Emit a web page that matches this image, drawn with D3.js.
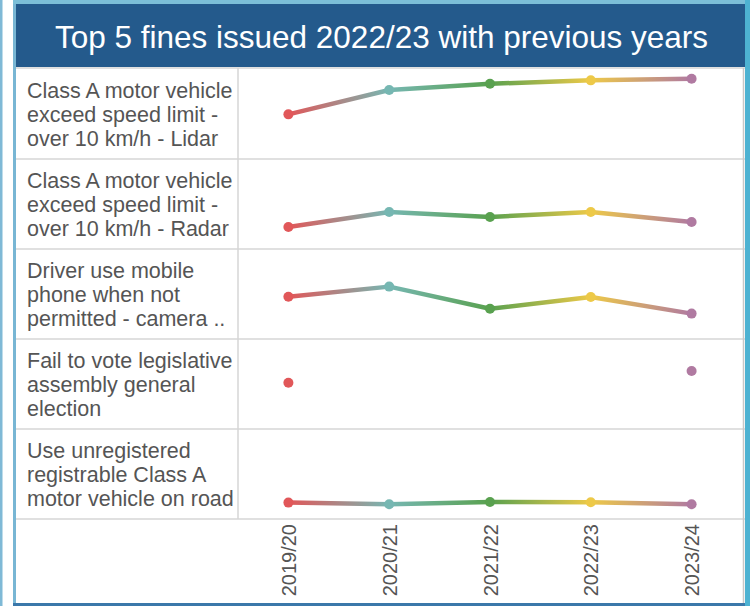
<!DOCTYPE html>
<html>
<head>
<meta charset="utf-8">
<script src="https://cdn.jsdelivr.net/npm/d3@7"></script>
<style>
  html, body { margin: 0; padding: 0; background: #ffffff; }
  svg { display: block; font-family: "Liberation Sans", Arial, sans-serif; }
</style>
</head>
<body>
<svg id="chart" width="756" height="606"></svg>
<script>
// ---- Data ----
const title = "Top 5 fines issued 2022/23 with previous years";
const years = ["2019/20", "2020/21", "2021/22", "2022/23", "2023/24"];
const yearColors = ["#e15759", "#76b7b2", "#59a14f", "#edc948", "#b07aa1"];
const categories = [
  "Class A motor vehicle exceed speed limit - over 10 km/h - Lidar",
  "Class A motor vehicle exceed speed limit - over 10 km/h - Radar",
  "Driver use mobile phone when not permitted - camera ..",
  "Fail to vote legislative assembly general election",
  "Use unregistered registrable Class A motor vehicle on road"
];
const categoryLines = [
  ["Class A motor vehicle", "exceed speed limit -", "over 10 km/h - Lidar"],
  ["Class A motor vehicle", "exceed speed limit -", "over 10 km/h - Radar"],
  ["Driver use mobile", "phone when not", "permitted - camera .."],
  ["Fail to vote legislative", "assembly general", "election"],
  ["Use unregistered", "registrable Class A", "motor vehicle on road"]
];
// fines issued per year
const lidarValues        = [24800, 38300, 41800, 43700, 44600];
const radarValues        = [12200, 20600, 17800, 20600, 15000];
const mobileValues       = [23500, 29100, 16800, 23300, 14100];
const voteValues         = [25700, null, null, null, 32200];
const unregisteredValues = [9100, 8200, 9400, 9300, 8200];
const seriesValues = [lidarValues, radarValues, mobileValues, voteValues, unregisteredValues];
const yMax = 50000;

// ---- Layout ----
const svg = d3.select("#chart");
const W = 756, H = 606;
const boxL = 16, boxR = 745, boxTop = 4, titleBottom = 68, boxBottom = 603;
const colX = 238;
const rowsTop = 69, rowsBottom = 519;
const textColor = "#555555";
const gridColor = "#d6d6d6";

// outer thin line at far left
svg.append("rect").attr("x", 0).attr("y", 0).attr("width", 2.5).attr("height", H).attr("fill", "#7fb9d6");
// box borders
svg.append("rect").attr("x", 13).attr("y", 0).attr("width", boxR + 5 - 13).attr("height", H).attr("fill", "#ffffff");
svg.append("rect").attr("x", 13).attr("y", 0).attr("width", 3).attr("height", H).attr("fill", "#78b6d4");
svg.append("rect").attr("x", 13).attr("y", 0).attr("width", boxR + 5 - 13).attr("height", 4).attr("fill", "#7cbfd8");
svg.append("rect").attr("x", boxR).attr("y", 0).attr("width", 5).attr("height", H).attr("fill", "#4db2d2");
svg.append("rect").attr("x", 13).attr("y", boxBottom).attr("width", boxR - 13).attr("height", 3).attr("fill", "#3b78aa");

// title bar
svg.append("rect").attr("x", boxL).attr("y", boxTop).attr("width", boxR - boxL).attr("height", titleBottom - boxTop - 1)
  .attr("fill", "#245a8c");
svg.append("text").attr("x", (boxL + boxR) / 2 + 1).attr("y", 48)
  .attr("text-anchor", "middle").attr("fill", "#ffffff")
  .style("font-size", "31.5px").text(title);

// scales
const rowScale = d3.scaleBand().domain(categories).range([rowsTop, rowsBottom]);
const x = d3.scalePoint().domain(years).range([colX, boxR - 3]).padding(0.5);
const y = d3.scaleLinear().domain([0, yMax]).range([rowScale.bandwidth(), 0]);

// grid lines
const grid = svg.append("g");
grid.append("line").attr("x1", boxL).attr("x2", boxR).attr("y1", titleBottom).attr("y2", titleBottom)
  .attr("stroke", gridColor).attr("stroke-width", 1.5);
categories.forEach(c => {
  const yb = rowScale(c) + rowScale.bandwidth();
  grid.append("line").attr("x1", boxL).attr("x2", boxR).attr("y1", yb).attr("y2", yb)
    .attr("stroke", gridColor).attr("stroke-width", 1.5);
});
grid.append("line").attr("x1", colX).attr("x2", colX).attr("y1", titleBottom).attr("y2", rowsBottom)
  .attr("stroke", gridColor).attr("stroke-width", 1.5);
grid.append("line").attr("x1", boxR - 1.5).attr("x2", boxR - 1.5).attr("y1", titleBottom).attr("y2", boxBottom)
  .attr("stroke", "#c8c8c8").attr("stroke-width", 1.5);

// row labels
categories.forEach((c, i) => {
  const t = svg.append("text").attr("fill", textColor).style("font-size", "21.5px");
  categoryLines[i].forEach((ln, j) => {
    t.append("tspan").attr("x", 27).attr("y", rowScale(c) + 29 + j * 24).text(ln);
  });
});

// gradients + lines + points
const defs = svg.append("defs");
const marks = svg.append("g");
categories.forEach((c, i) => {
  const vals = seriesValues[i];
  const top = rowScale(c);
  for (let k = 0; k < years.length - 1; k++) {
    if (vals[k] == null || vals[k + 1] == null) continue;
    const x1 = x(years[k]), x2 = x(years[k + 1]);
    const y1 = top + y(vals[k]), y2 = top + y(vals[k + 1]);
    const gid = `g${i}_${k}`;
    const g = defs.append("linearGradient").attr("id", gid)
      .attr("gradientUnits", "userSpaceOnUse")
      .attr("x1", x1).attr("y1", y1).attr("x2", x2).attr("y2", y2);
    g.append("stop").attr("offset", "0%").attr("stop-color", yearColors[k]);
    g.append("stop").attr("offset", "100%").attr("stop-color", yearColors[k + 1]);
    marks.append("line").attr("x1", x1).attr("y1", y1).attr("x2", x2).attr("y2", y2)
      .attr("stroke", `url(#${gid})`).attr("stroke-width", 4.5).attr("stroke-linecap", "round");
  }
  vals.forEach((v, k) => {
    if (v == null) return;
    marks.append("circle").attr("cx", x(years[k])).attr("cy", top + y(v)).attr("r", 5)
      .attr("fill", yearColors[k]);
  });
});

// x axis labels (rotated)
const xAxis = d3.axisBottom(x).tickSize(0).tickPadding(0);
const ax = svg.append("g").attr("transform", `translate(0,${rowsBottom})`).call(xAxis);
ax.select(".domain").remove();
ax.selectAll("text")
  .attr("transform", "rotate(-90)")
  .attr("x", -5).attr("y", 0).attr("dy", "0.35em")
  .attr("text-anchor", "end")
  .attr("fill", textColor)
  .style("font-size", "20px")
  .style("font-family", "'Liberation Sans', Arial, sans-serif");
</script>
</body>
</html>
